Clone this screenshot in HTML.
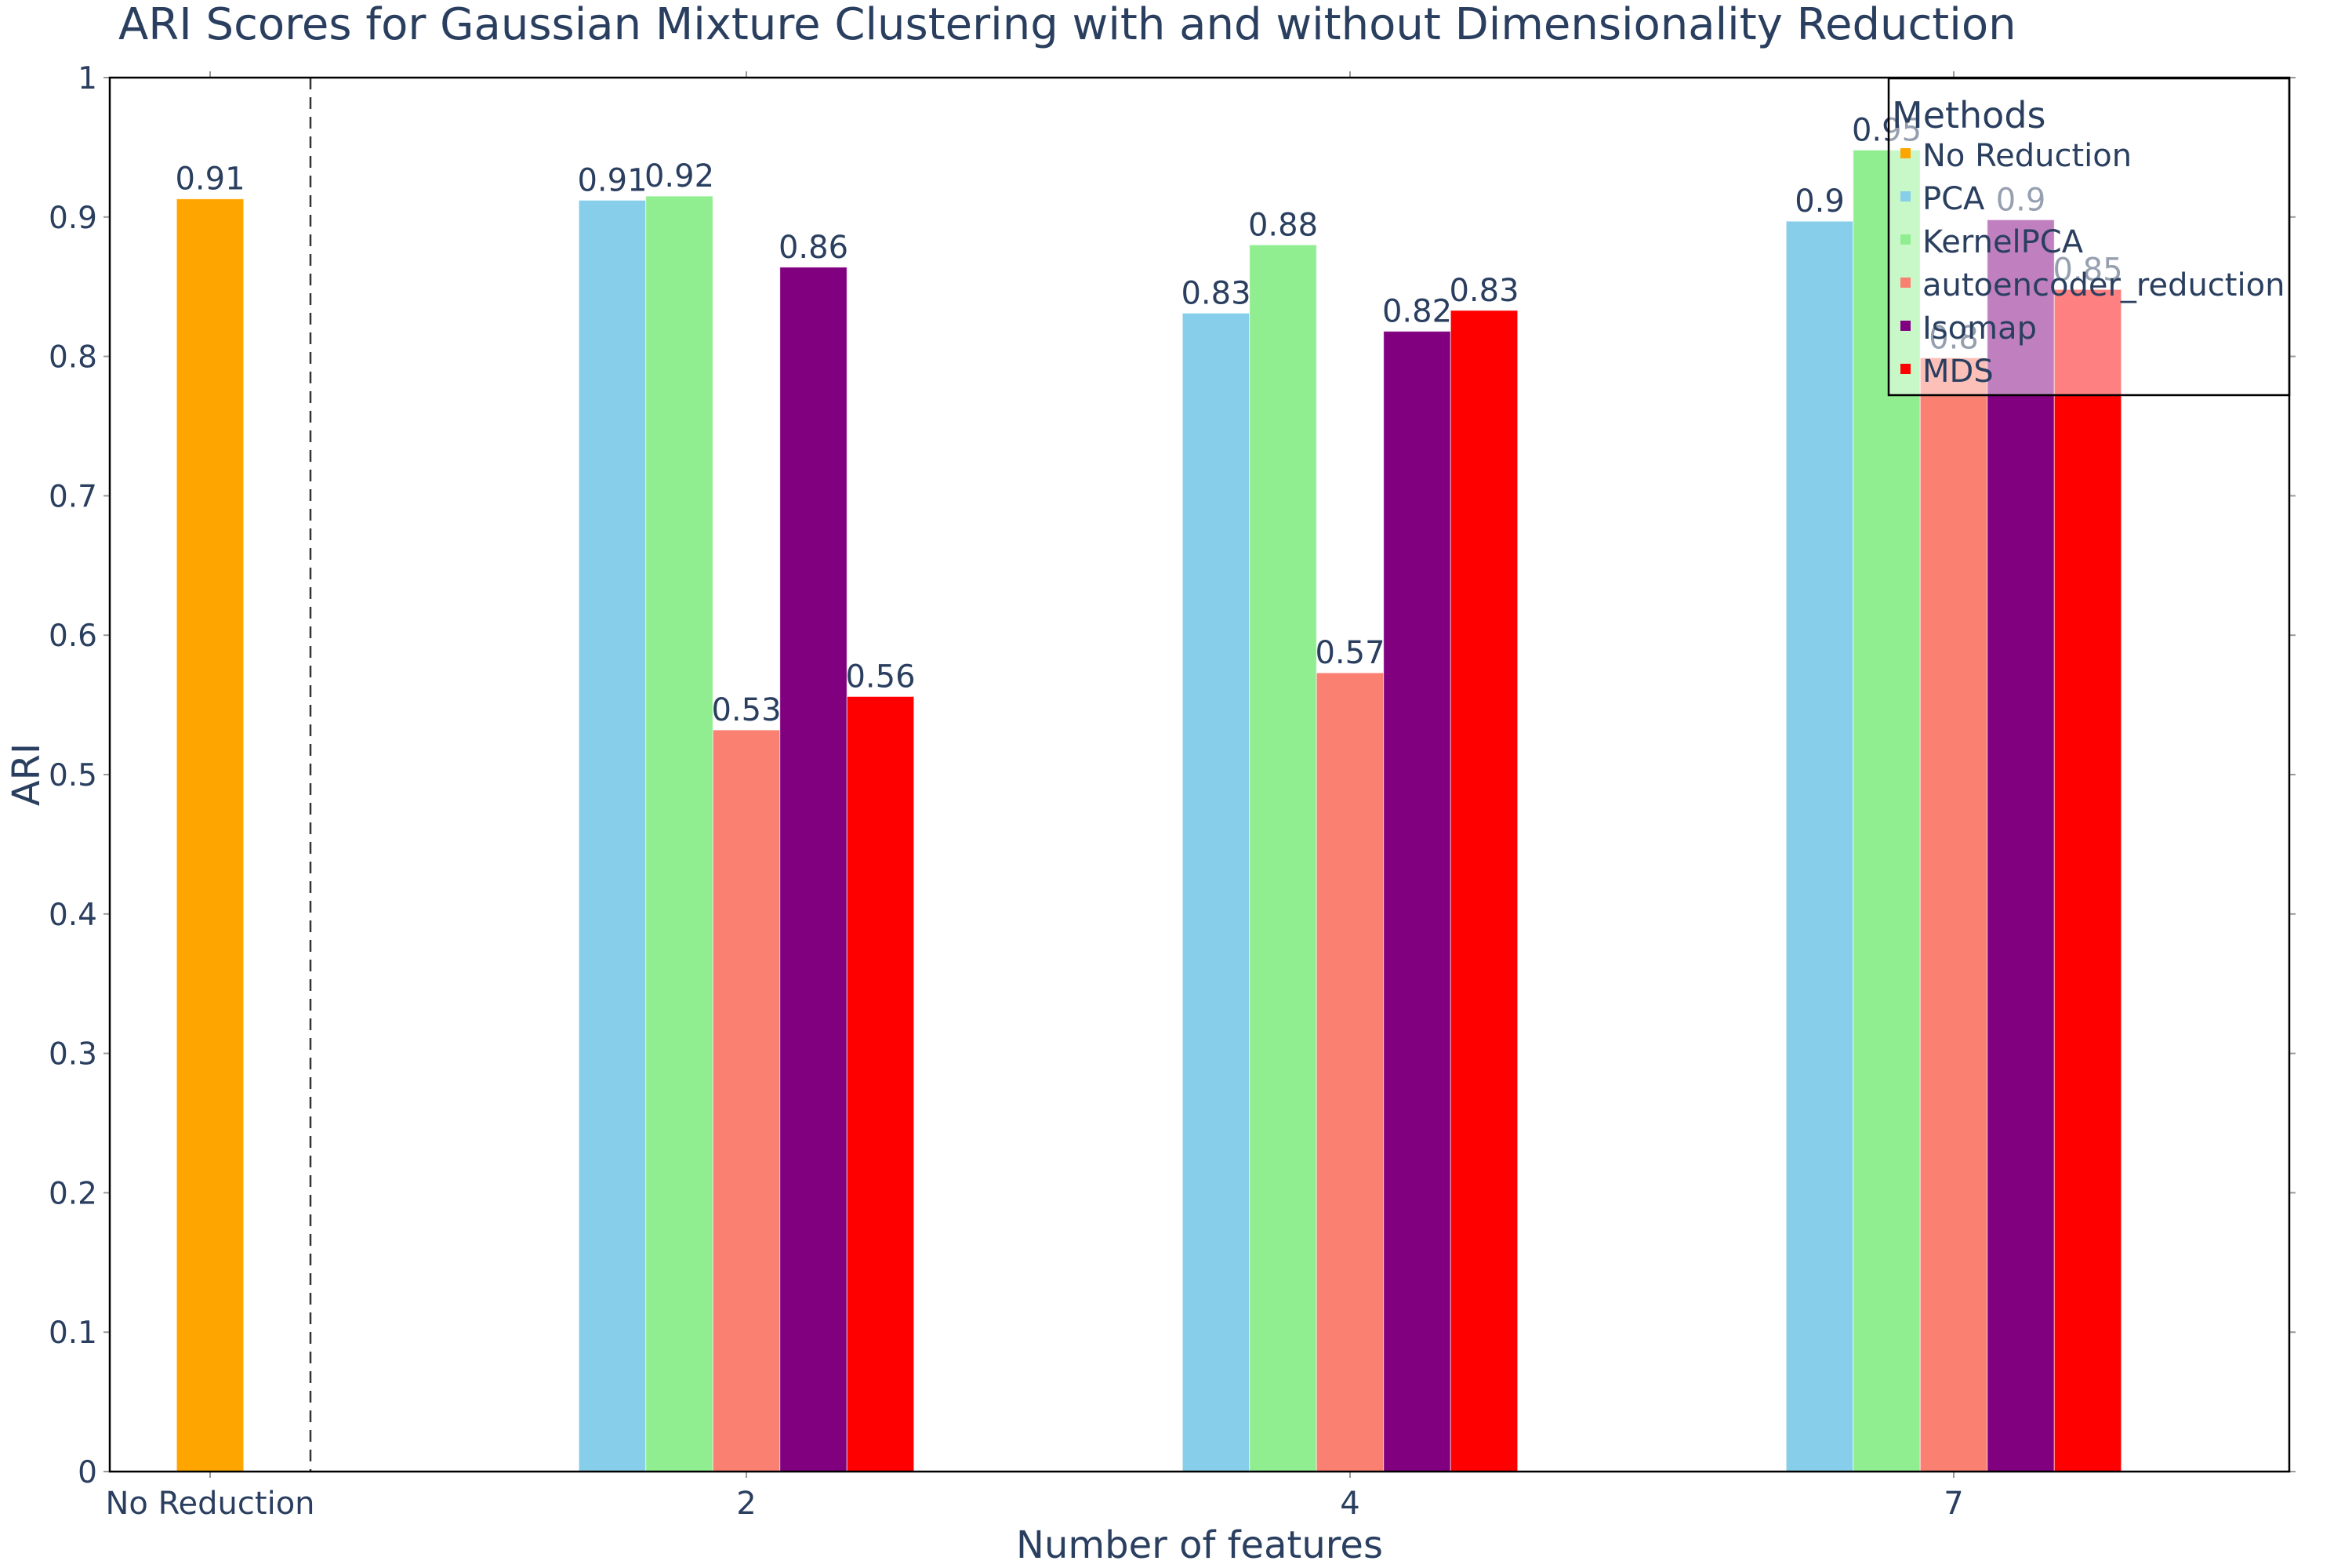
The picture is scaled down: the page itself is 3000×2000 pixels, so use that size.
<!DOCTYPE html>
<html><head><meta charset="utf-8"><style>
html,body{margin:0;padding:0;background:#fff;}
svg{display:block;font-family:"DejaVu Sans","Liberation Sans",sans-serif;}
</style></head><body>
<svg id="chart" width="3000" height="2000" viewBox="0 0 3000 2000" xmlns="http://www.w3.org/2000/svg">
<rect x="0" y="0" width="3000" height="2000" fill="#fff"/>
<text x="151" y="50" font-size="56" fill="#2a3f5f">ARI Scores for Gaussian Mixture Clustering with and without Dimensionality Reduction</text>
<g id="plot"></g>
<text x="1530" y="1987" font-size="48" fill="#2a3f5f" text-anchor="middle">Number of features</text>
<text x="0" y="0" font-size="48" fill="#2a3f5f" text-anchor="middle" transform="translate(50,988) rotate(-90)">ARI</text>
</svg>
<script>
const categories = ["No Reduction", "2", "4", "7"];
const methods = ["No Reduction", "PCA", "KernelPCA", "autoencoder_reduction", "Isomap", "MDS"];
const colors = ["#FFA500", "#87CEEB", "#90EE90", "#FA8072", "#800080", "#FF0000"];
const noReductionValues = [0.913];
const pcaValues = [0.912, 0.831, 0.897];
const kernelPcaValues = [0.915, 0.880, 0.948];
const autoencoderValues = [0.532, 0.573, 0.799];
const isomapValues = [0.864, 0.818, 0.898];
const mdsValues = [0.556, 0.833, 0.848];
const yTicks = [0, 0.1, 0.2, 0.3, 0.4, 0.5, 0.6, 0.7, 0.8, 0.9, 1];
const yTickLabels = ["0", "0.1", "0.2", "0.3", "0.4", "0.5", "0.6", "0.7", "0.8", "0.9", "1"];

const NS = "http://www.w3.org/2000/svg";
const plot = document.getElementById("plot");
const L = 140, R = 2920, T = 99, B = 1877;
const catX = [268, 952, 1722, 2492];
const barW = 85.5;
function y(v){ return B - (B - T) * v; }
function fmt(v){ return String(parseFloat(v.toFixed(2))); }
function mk(tag, attrs, parent){
  const e = document.createElementNS(NS, tag);
  for (const k in attrs) e.setAttribute(k, attrs[k]);
  (parent || plot).appendChild(e);
  return e;
}

yTicks.forEach((t, i) => {
  const yy = y(t);
  const tk = mk("line", {x1: L - 8, x2: L, y1: yy, y2: yy, stroke: "#999", "stroke-width": 2});
  
  
  const tk2 = mk("line", {x1: R, x2: R + 8, y1: yy, y2: yy, stroke: "#999", "stroke-width": 2});
  
  
  const lb = mk("text", {x: 124, y: yy + 14, "font-size": 39, fill: "#2a3f5f", "text-anchor": "end"});
  lb.textContent = yTickLabels[i];
  
  
});
categories.forEach((c, i) => {
  const tk = mk("line", {x1: catX[i], x2: catX[i], y1: B, y2: B + 8, stroke: "#999", "stroke-width": 2});
  
  
  const tk2 = mk("line", {x1: catX[i], x2: catX[i], y1: T - 8, y2: T, stroke: "#999", "stroke-width": 2});
  
  
  const lb = mk("text", {x: catX[i], y: 1931, "font-size": 40, fill: "#2a3f5f", "text-anchor": "middle"});
  lb.textContent = c;
  
  
});

function drawBar(cx, v, color, name){
  const r = mk("rect", {x: cx - barW/2, y: y(v), width: barW, height: B - y(v), fill: color, stroke: "rgba(255,255,255,0.6)", "stroke-width": 1});
  
  
  const t = mk("text", {x: cx, y: y(v) - 12, "font-size": 40, fill: "#2a3f5f", "text-anchor": "middle"});
  t.textContent = fmt(v);
  
  
}
drawBar(catX[0], noReductionValues[0], colors[0], 'bar-no-reduction');
const series = [pcaValues, kernelPcaValues, autoencoderValues, isomapValues, mdsValues];
const snames = ["pca", "kernelpca", "autoencoder", "isomap", "mds"];
for (let ci = 1; ci < categories.length; ci++){
  series.forEach((s, si) => {
    const cx = catX[ci] + (si - 2) * barW;
    drawBar(cx, s[ci - 1], colors[si + 1], 'bar-' + snames[si] + '-' + categories[ci]);
  });
}

const dl = mk("line", {x1: 396, x2: 396, y1: T, y2: B, stroke: "#333", "stroke-width": 2.5, "stroke-dasharray": "15,10"});



const box = mk("rect", {x: L, y: T, width: R - L, height: B - T, fill: "none", stroke: "#000", "stroke-width": 2.5});



const lg = mk("g", {});


const lbg = mk("rect", {x: 2409, y: 100, width: 511, height: 404, fill: "rgba(255,255,255,0.5)", stroke: "#000", "stroke-width": 2.5}, lg);


const lt = mk("text", {x: 2413, y: 163, "font-size": 46, fill: "#2a3f5f"}, lg);
lt.textContent = "Methods";


methods.forEach((m, i) => {
  const by = 212 + i * 55;
  const g = mk("g", {}, lg);
  
  
  mk("rect", {x: 2424, y: by - 23, width: 13, height: 13, fill: colors[i]}, g);
  const t = mk("text", {x: 2452, y: by, "font-size": 40, fill: "#2a3f5f"}, g);
  t.textContent = m;
});
</script>
</body></html>
